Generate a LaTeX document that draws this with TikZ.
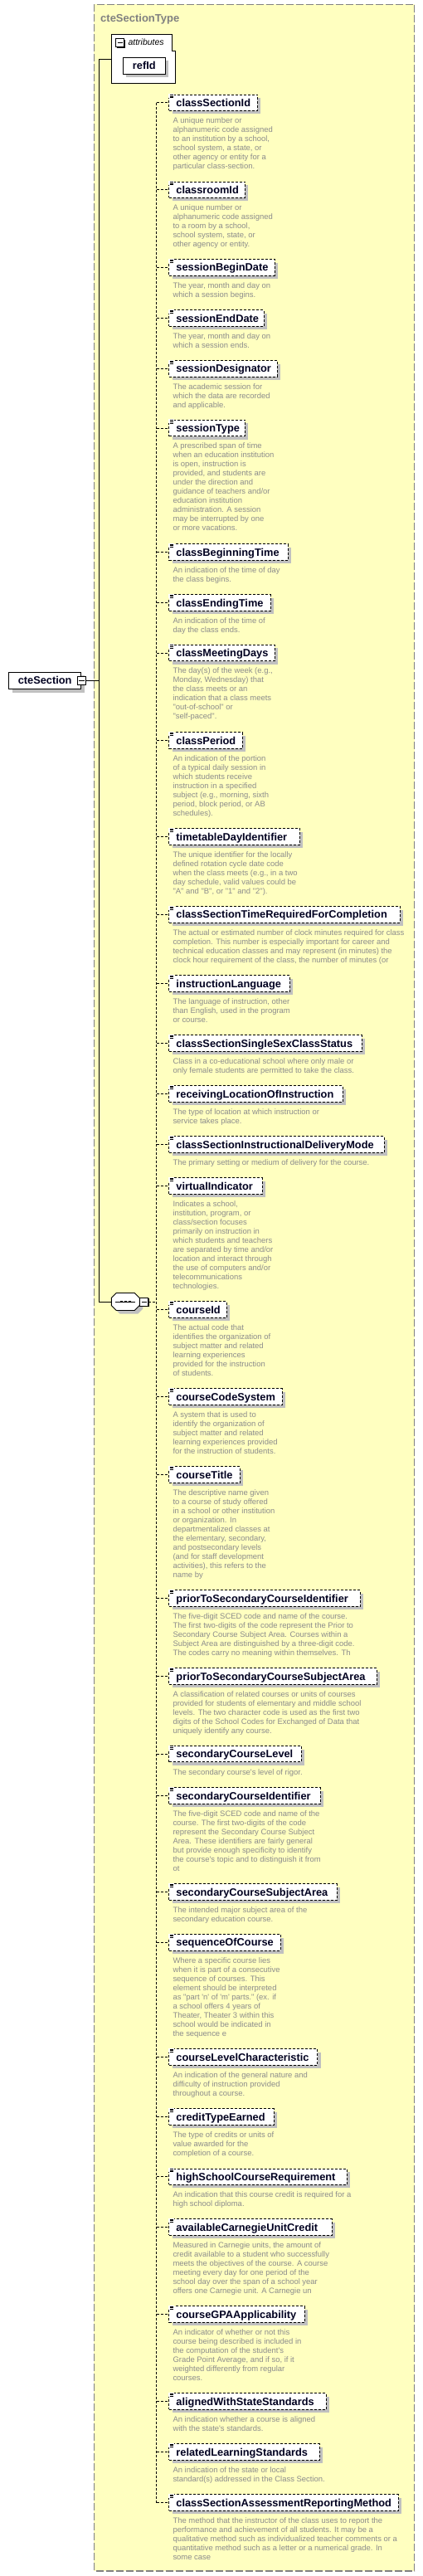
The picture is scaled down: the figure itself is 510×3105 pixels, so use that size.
\documentclass[tikz,border=0pt]{standalone}
\usepackage{fontspec}
\newfontfamily\lsans{Liberation Sans}
\usetikzlibrary{shadows}
\definecolor{bgyellow}{RGB}{255,255,192}
\definecolor{bordergray}{RGB}{128,128,128}
\definecolor{shadowgray}{RGB}{192,192,192}
\definecolor{desccol}{RGB}{140,140,140}
\definecolor{namecol}{RGB}{0,0,32}
\newcommand\dstrut{\rule{0pt}{8pt}}
\tikzset{
  namefont/.style={font=\lsans\fontsize{12.8}{14}\selectfont\bfseries},
  elbox/.style={draw=black, line width=0.9pt, dash pattern=on 3pt off 2pt, fill=white,
    anchor=west, inner xsep=8.7pt, inner ysep=0pt, minimum height=19.4pt,
    text height=11pt, text depth=1.8pt, align=left, namefont, text=namecol,
    general shadow={fill=shadowgray, shadow xshift=4pt, shadow yshift=-4pt}},
  solidbox/.style={draw=black, line width=0.9pt, fill=white, inner sep=0pt,
    text height=11pt, text depth=1.8pt, namefont, text=namecol,
    general shadow={fill=shadowgray, shadow xshift=4pt, shadow yshift=-4pt}},
  descbox/.style={anchor=north west, inner sep=0pt, align=left,
    font=\lsans\fontsize{9.45}{11}\selectfont, text=desccol},
  conn/.style={draw=black, line width=0.9pt, dash pattern=on 3pt off 2pt},
  trunkline/.style={draw=black, line width=1pt},
  iconline/.style={draw=black, line width=0.7pt},
  minusbox/.style={draw=black, fill=white, line width=0.8pt, minimum size=10pt, inner sep=0pt,
    general shadow={fill=black, shadow xshift=1.1pt, shadow yshift=-1.1pt}},
}
\newcommand\elem[5]{%
  \pgfmathsetmacro\tw{#3-220.7}%
  \node[elbox, text width=\tw pt] (#1) at (203.3,#2) {\mbox{#4}};
  \fill[white] (202.6,#2-10.6) rectangle (210.3,#2-5.6);
  \draw[iconline] (204.7,#2-9.4) -- (209.3,#2-9.4) (204.7,#2-7.7) -- (209.3,#2-7.7) (204.7,#2-6) -- (209.3,#2-6);
  \node[descbox] (#1-d) at (208.3,#2+16.7) {\dstrut #5};
  \draw[conn] (dv |- #1.west) -- (#1.west);
}
\begin{document}
\begin{tikzpicture}[x=1pt,y=-1pt]
\fill[white] (0,0) rectangle (510,3105);
\useasboundingbox (0,0) rectangle (510,3105);
% complex type frame
\draw[fill=bgyellow, draw=bordergray, line width=1.2pt, dash pattern=on 9pt off 3pt] (113.3,5.3) rectangle (499.7,3099);
\node[anchor=base west, inner sep=0pt, font=\lsans\fontsize{13}{15}\selectfont\bfseries, text=bordergray] (title) at (121,26) {cteSectionType};
\coordinate (dv) at (188.7,0);
\coordinate (trunk) at (119.3,0);
% attributes group
\node[minimum width=77pt, minimum height=59pt, anchor=north west, inner sep=0pt] (attr) at (134.3,41.3) {};
\draw[draw=black, line width=0.9pt, fill=white] (attr.north west) -- ([xshift=-4pt]attr.north east) -- ++(0,19.7) -- ++(4,0) -- (attr.south east) -- (attr.south west) -- cycle;
\node[minusbox] (attrminus) at (144.8,51.5) {};
\draw[line width=1pt] ([xshift=2.2pt]attrminus.west) -- ([xshift=-2.2pt]attrminus.east);
\node[anchor=base west, inner sep=0pt, font=\lsans\fontsize{10.5}{12}\selectfont\itshape] (attrlabel) at (154.3,54.3) {attributes};
\node[solidbox, minimum width=51pt, minimum height=20pt] (refId) at (173.8,79.3) {refId};
% root element
\node[solidbox, minimum width=87pt, minimum height=20.7pt] (cteSection) at (54.2,820.3) {cteSection};
\node[minusbox] (cteminus) at (98.3,820.3) {};
\draw[line width=1pt] ([xshift=2.2pt]cteminus.west) -- ([xshift=-2.2pt]cteminus.east);
% sequence compositor
\node[minimum width=34pt, minimum height=21pt, inner sep=0pt] (seq) at (151.3,1569) {};
\fill[shadowgray] (144.3,1562.5) -- (166.3,1562.5) -- (172.3,1568.5) -- (172.3,1577.5) -- (166.3,1583.5) -- (144.3,1583.5) -- (138.3,1577.5) -- (138.3,1568.5) -- cycle;
\draw[draw=black, line width=0.9pt, fill=white] (140.3,1558.5) -- (162.3,1558.5) -- (168.3,1564.5) -- (168.3,1573.5) -- (162.3,1579.5) -- (140.3,1579.5) -- (134.3,1573.5) -- (134.3,1564.5) -- cycle;
\draw[line width=1pt] (139.3,1569) -- (163.3,1569);
\foreach \dx in {146.7,151.7,156.7} \fill (\dx-1.4,1567.6) rectangle (\dx+1.4,1570.4);
\node[minusbox] (seqminus) at (173.8,1569) {};
\draw[line width=1pt] ([xshift=2.2pt]seqminus.west) -- ([xshift=-2.2pt]seqminus.east);
% trunk connectors
\draw[trunkline] (attr.west) -| (trunk |- seq.west) -- (seq.west);
\draw[trunkline] (cteminus.east) -- (trunk |- cteminus.east);
\draw[conn] (seqminus.east) -- (dv |- seqminus.east);
% elements
\elem{classSectionId}{123.7}{310}{classSectionId}{A unique number or\\alphanumeric code assigned\\to an institution by a school,\\school system, a state, or\\other agency or entity for a\\particular class-section.}
\elem{classroomId}{228.7}{295}{classroomId}{A unique number or\\alphanumeric code assigned\\to a room by a school,\\school system, state, or\\other agency or entity.}
\elem{sessionBeginDate}{322.3}{330.7}{sessionBeginDate}{The year, month and day on\\which a session begins.}
\elem{sessionEndDate}{383.5}{317.7}{sessionEndDate}{The year, month and day on\\which a session ends.}
\elem{sessionDesignator}{444.3}{333.7}{sessionDesignator}{The academic session for\\which the data are recorded\\and applicable.}
\elem{sessionType}{516}{295}{sessionType}{A prescribed span of time\\when an education institution\\is open, instruction is\\provided, and students are\\under the direction and\\guidance of teachers and/or\\education institution\\administration. A session\\may be interrupted by one\\or more vacations.}
\elem{classBeginningTime}{665.5}{346.7}{classBeginningTime}{An indication of the time of day\\the class begins.}
\elem{classEndingTime}{726.5}{325.7}{classEndingTime}{An indication of the time of\\day the class ends.}
\elem{classMeetingDays}{787}{330.7}{classMeetingDays}{The day(s) of the week (e.g.,\\Monday, Wednesday) that\\the class meets or an\\indication that a class meets\\"out-of-school" or\\"self-paced".}
\elem{classPeriod}{892.5}{291.7}{classPeriod}{An indication of the portion\\of a typical daily session in\\which students receive\\instruction in a specified\\subject (e.g., morning, sixth\\period, block period, or AB\\schedules).}
\elem{timetableDayIdentifier}{1008.5}{361}{timetableDayIdentifier}{The unique identifier for the locally\\defined rotation cycle date code\\when the class meets (e.g., in a two\\day schedule, valid values could be\\"A" and "B", or "1" and "2").}
\elem{classSectionTimeRequiredForCompletion}{1102.3}{481.7}{classSectionTimeRequiredForCompletion}{The actual or estimated number of clock minutes required for class\\completion. This number is especially important for career and\\technical education classes and may represent (in minutes) the\\clock hour requirement of the class, the number of minutes (or}
\elem{instructionLanguage}{1185.5}{348.7}{instructionLanguage}{The language of instruction, other\\than English, used in the program\\or course.}
\elem{classSectionSingleSexClassStatus}{1257.5}{435.7}{classSectionSingleSexClassStatus}{Class in a co-educational school where only male or\\only female students are permitted to take the class.}
\elem{receivingLocationOfInstruction}{1318.5}{412.7}{receivingLocationOfInstruction}{The type of location at which instruction or\\service takes place.}
\elem{classSectionInstructionalDeliveryMode}{1379.5}{462.7}{classSectionInstructionalDeliveryMode}{The primary setting or medium of delivery for the course.}
\elem{virtualIndicator}{1429.5}{315.7}{virtualIndicator}{Indicates a school,\\institution, program, or\\class/section focuses\\primarily on instruction in\\which students and teachers\\are separated by time and/or\\location and interact through\\the use of computers and/or\\telecommunications\\technologies.}
\elem{courseId}{1578.5}{272.7}{courseId}{The actual code that\\identifies the organization of\\subject matter and related\\learning experiences\\provided for the instruction\\of students.}
\elem{courseCodeSystem}{1683.5}{339.7}{courseCodeSystem}{A system that is used to\\identify the organization of\\subject matter and related\\learning experiences provided\\for the instruction of students.}
\elem{courseTitle}{1777.5}{288.7}{courseTitle}{The descriptive name given\\to a course of study offered\\in a school or other institution\\or organization. In\\departmentalized classes at\\the elementary, secondary,\\and postsecondary levels\\(and for staff development\\activities), this refers to the\\name by}
\elem{priorToSecondaryCourseIdentifier}{1926.5}{433.7}{priorToSecondaryCourseIdentifier}{The five-digit SCED code and name of the course.\\The first two-digits of the code represent the Prior to\\Secondary Course Subject Area. Courses within a\\Subject Area are distinguished by a three-digit code.\\The codes carry no meaning within themselves. Th}
\elem{priorToSecondaryCourseSubjectArea}{2020.5}{453.7}{priorToSecondaryCourseSubjectArea}{A classification of related courses or units of courses\\provided for students of elementary and middle school\\levels. The two character code is used as the first two\\digits of the School Codes for Exchanged of Data that\\uniquely identify any course.}
\elem{secondaryCourseLevel}{2114.2}{362.7}{secondaryCourseLevel}{The secondary course's level of rigor.}
\elem{secondaryCourseIdentifier}{2164.5}{385.7}{secondaryCourseIdentifier}{The five-digit SCED code and name of the\\course. The first two-digits of the code\\represent the Secondary Course Subject\\Area. These identifiers are fairly general\\but provide enough specificity to identify\\the course's topic and to distinguish it from\\ot}
\elem{secondaryCourseSubjectArea}{2280.5}{405.7}{secondaryCourseSubjectArea}{The intended major subject area of the\\secondary education course.}
\elem{sequenceOfCourse}{2341.3}{337.7}{sequenceOfCourse}{Where a specific course lies\\when it is part of a consecutive\\sequence of courses. This\\element should be interpreted\\as "part 'n' of 'm' parts." (ex. if\\a school offers 4 years of\\Theater, Theater 3 within this\\school would be indicated in\\the sequence e}
\elem{courseLevelCharacteristic}{2479.5}{382.3}{courseLevelCharacteristic}{An indication of the general nature and\\difficulty of instruction provided\\throughout a course.}
\elem{creditTypeEarned}{2551.5}{329.7}{creditTypeEarned}{The type of credits or units of\\value awarded for the\\completion of a course.}
\elem{highSchoolCourseRequirement}{2623.7}{417.7}{highSchoolCourseRequirement}{An indication that this course credit is required for a\\high school diploma.}
\elem{availableCarnegieUnitCredit}{2684.5}{399.7}{availableCarnegieUnitCredit}{Measured in Carnegie units, the amount of\\credit available to a student who successfully\\meets the objectives of the course. A course\\meeting every day for one period of the\\school day over the span of a school year\\offers one Carnegie unit. A Carnegie un}
\elem{courseGPAApplicability}{2789.5}{366.7}{courseGPAApplicability}{An indicator of whether or not this\\course being described is included in\\the computation of the student's\\Grade Point Average, and if so, if it\\weighted differently from regular\\courses.}
\elem{alignedWithStateStandards}{2894.5}{392.7}{alignedWithStateStandards}{An indication whether a course is aligned\\with the state's standards.}
\elem{relatedLearningStandards}{2955.5}{384.7}{relatedLearningStandards}{An indication of the state or local\\standard(s) addressed in the Class Section.}
\elem{classSectionAssessmentReportingMethod}{3016.5}{479.7}{classSectionAssessmentReportingMethod}{The method that the instructor of the class uses to report the\\performance and achievement of all students. It may be a\\qualitative method such as individualized teacher comments or a\\quantitative method such as a letter or a numerical grade. In\\some case}
% sequence spine
\draw[conn] (dv |- classSectionId.west) -- (dv |- classSectionAssessmentReportingMethod.west);
\end{tikzpicture}
\end{document}
